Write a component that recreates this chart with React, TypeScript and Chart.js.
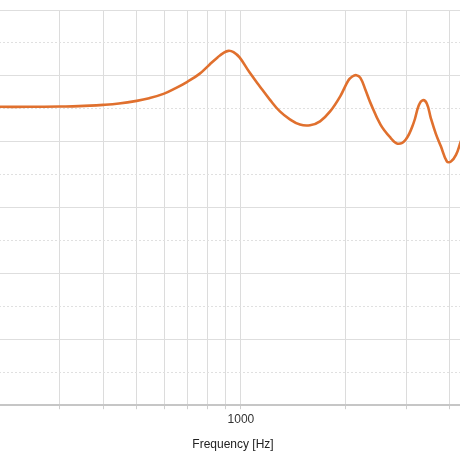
import React, { useEffect, useRef } from "react";
import { Chart, registerables } from "chart.js";

Chart.register(...registerables);

const frequencies = [
  200, 243, 300, 340, 400, 444, 500, 543, 600, 646, 700, 759, 811, 856, 891,
  921, 952, 991, 1060, 1134, 1212, 1296, 1385, 1481, 1584, 1693, 1810, 1936,
  2043, 2098, 2155, 2214, 2289, 2367, 2531, 2706, 2836, 2991, 3157, 3264,
  3353, 3444, 3537, 3658, 3782, 3937, 4044, 4182, 4324, 4500,
];
const levels = [
  85.3, 85.3, 85.35, 85.4, 85.6, 85.8, 86.2, 86.6, 87.3, 88.1, 89.1, 90.3,
  91.7, 92.8, 93.5, 93.8, 93.6, 92.8, 90.5, 88.4, 86.4, 84.6, 83.4, 82.6,
  82.5, 83.1, 84.6, 86.9, 89.3, 89.9, 90.1, 89.7, 87.9, 85.9, 82.6, 80.6,
  79.7, 80.3, 82.9, 85.5, 86.3, 85.8, 83.6, 81.2, 79.3, 77.0, 77.0, 78.0,
  80.1, 82.2,
];
const gridFrequencies = [200, 300, 400, 500, 600, 700, 800, 900, 1000, 2000, 3000, 4000];
const xLabeledTicks = [1000];
const xMin = 200;
const xMax = 4500;
const yMin = 40;
const yMax = 100;
const xTitle = "Frequency [Hz]";

export default function App() {
  const ref = useRef<HTMLCanvasElement | null>(null);

  useEffect(() => {
    if (!ref.current) return;
    Chart.defaults.font.family = "'Liberation Sans', Arial, sans-serif";
    const data = frequencies.map((f, i) => ({ x: f, y: levels[i] }));
    const chart = new Chart(ref.current, {
      type: "line",
      data: {
        datasets: [
          {
            data,
            borderColor: "#E0702E",
            borderWidth: 2.6,
            pointRadius: 0,
            fill: false,
            tension: 0.4,
          },
        ],
      },
      options: {
        responsive: false,
        animation: false,
        layout: { padding: { left: 0, top: 10, right: 0, bottom: 4 } },
        plugins: { legend: { display: false }, tooltip: { enabled: false } },
        scales: {
          x: {
            type: "logarithmic",
            min: xMin,
            max: xMax,
            afterBuildTicks: (s: any) => {
              s.ticks = gridFrequencies.map((v) => ({ value: v }));
            },
            grid: {
              color: "#dcdcdc",
              lineWidth: 1,
              tickLength: 4,
              tickColor: "#cfcfcf",
            },
            border: { color: "#c6c6c6", width: 2 },
            ticks: {
              autoSkip: false,
              maxRotation: 0,
              padding: 3,
              color: "#333",
              font: { size: 12 },
              callback: (v: any) =>
                xLabeledTicks.includes(Number(v)) ? String(v) : "",
            },
            title: {
              display: true,
              text: xTitle,
              color: "#222",
              font: { size: 12 },
              padding: { top: 8, bottom: 4 },
            },
          },
          y: {
            min: yMin,
            max: yMax,
            ticks: { display: false, stepSize: 10 },
            grid: { color: "#dedede", lineWidth: 1, drawTicks: false },
            border: { display: false },
            afterFit: (s: any) => {
              s.width = 0;
            },
          },
          y2: {
            position: "left",
            min: yMin,
            max: yMax,
            ticks: { display: false, stepSize: 5 },
            grid: {
              color: (c: any) =>
                c.tick && c.tick.value % 10 === 0 ? "rgba(0,0,0,0)" : "#e0e0e0",
              lineWidth: 1,
              drawTicks: false,
            },
            border: { display: false, dash: [2, 2] },
            afterFit: (s: any) => {
              s.width = 0;
            },
          },
        },
      },
    });
    return () => chart.destroy();
  }, []);

  return (
    <div
      style={{
        position: "absolute",
        left: 0,
        top: 0,
        width: 460,
        height: 460,
        overflow: "hidden",
        background: "#fff",
      }}
    >
      <canvas
        ref={ref}
        width={471}
        height={460}
        style={{ display: "block", marginLeft: -4 }}
      />
    </div>
  );
}
